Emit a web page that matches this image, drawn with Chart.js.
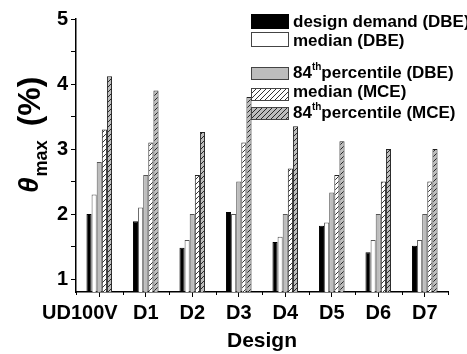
<!DOCTYPE html>
<html>
<head>
<meta charset="utf-8">
<script src="https://cdn.jsdelivr.net/npm/chart.js@4"></script>
<style>
  html, body { margin: 0; padding: 0; background: #fff; }
  #chart { display: block; }
</style>
</head>
<body>
<canvas id="chart" width="467" height="354"></canvas>
<script>
// categories and series
const categories = ['UD100V', 'D1', 'D2', 'D3', 'D4', 'D5', 'D6', 'D7'];
const designDBE = [2.0, 1.89, 1.48, 2.03, 1.57, 1.82, 1.41, 1.51];
const medianDBE = [2.3, 2.1, 1.6, 2.0, 1.65, 1.87, 1.6, 1.6];
const p84DBE = [2.8, 2.6, 2.0, 2.5, 2.0, 2.33, 2.0, 2.0];
const medianMCE = [3.3, 3.1, 2.6, 3.1, 2.7, 2.6, 2.5, 2.5];
const p84MCE = [4.12, 3.9, 3.26, 3.8, 3.35, 3.12, 3.0, 3.0];
const seriesLabels = ['design demand (DBE)', 'median (DBE)', '84th percentile (DBE)', 'median (MCE)', '84th percentile (MCE)'];
const yTicks = [1, 1.5, 2, 2.5, 3, 3.5, 4, 4.5, 5];
const yTickLabels = ['1', '', '2', '', '3', '', '4', '', '5'];

const FONT = '"Liberation Sans", Arial, sans-serif';
const GRAY = '#bdbdbd';

// diagonal hatch pattern
function makeHatch(bg) {
    const c = document.createElement('canvas');
    c.width = 5; c.height = 5;
    const g = c.getContext('2d');
    g.fillStyle = bg;
    g.fillRect(0, 0, 5, 5);
    g.strokeStyle = '#000';
    g.lineWidth = 0.8;
    g.beginPath();
    g.moveTo(-1, 6); g.lineTo(6, -1);
    g.moveTo(-1, 1); g.lineTo(1, -1);
    g.moveTo(4, 6); g.lineTo(6, 4);
    g.stroke();
    return g.createPattern(c, 'repeat');
}

const ctx = document.getElementById('chart').getContext('2d');
const hatchWhite = makeHatch('#fff');
const hatchGray = makeHatch(GRAY);

const fills = ['#000', '#fff', GRAY, hatchWhite, hatchGray];
const borders = ['#000', '#555', '#555', '#222', '#222'];
const values = [designDBE, medianDBE, p84DBE, medianMCE, p84MCE];

const datasets = values.map((v, i) => ({
    label: seriesLabels[i],
    data: v,
    backgroundColor: fills[i],
    borderColor: borders[i],
    borderWidth: 1,
    categoryPercentage: 0.55,
    barPercentage: 1.0
}));

// custom legend, y-axis title and minor x ticks
const extras = {
    id: 'extras',
    afterDraw(chart) {
        const c = chart.ctx;
        const x = chart.scales.x;
        const area = chart.chartArea;

        // minor ticks between categories
        c.save();
        c.strokeStyle = '#000';
        c.lineWidth = 1;
        c.beginPath();
        for (let i = 0; i <= categories.length; i++) {
            const px = Math.round(x.getPixelForValue(i - 0.5)) + 0.5;
            c.moveTo(px, area.bottom);
            c.lineTo(px, area.bottom + 3);
        }
        c.stroke();
        c.restore();

        // legend
        const boxTop = [14, 32, 67, 88, 107];
        const boxH = [15, 15, 13, 13, 13];
        const base = [27, 46, 78, 97, 118];
        c.save();
        chart.data.datasets.forEach((ds, i) => {
            c.fillStyle = ds.backgroundColor;
            c.fillRect(251, boxTop[i], 38, boxH[i]);
            c.strokeStyle = i === 0 ? '#000' : '#444';
            c.lineWidth = 1;
            c.strokeRect(251.5, boxTop[i] + 0.5, 37, boxH[i] - 1);
            c.fillStyle = '#000';
            c.textBaseline = 'alphabetic';
            const m = ds.label.match(/^(\d+)th (.*)$/);
            let tx = 293;
            if (m) {
                c.font = 'bold 17px ' + FONT;
                c.fillText(m[1], tx, base[i]);
                tx += c.measureText(m[1]).width;
                c.font = 'bold 10px ' + FONT;
                c.fillText('th', tx, base[i] - 8);
                tx += c.measureText('th').width;
                c.font = 'bold 17px ' + FONT;
                c.fillText(m[2], tx, base[i]);
            } else {
                c.font = 'bold 17px ' + FONT;
                c.fillText(ds.label, tx, base[i]);
            }
        });
        c.restore();

        // y title: theta_max (%)
        c.save();
        c.translate(38, 193);
        c.rotate(-Math.PI / 2);
        c.fillStyle = '#000';
        c.textBaseline = 'alphabetic';
        c.font = 'italic bold 28px ' + FONT;
        c.fillText('\u03b8', 0, 0);
        let w = c.measureText('\u03b8').width;
        c.font = 'bold 18px ' + FONT;
        c.fillText('max', w + 1, 9);
        w += c.measureText('max').width + 1;
        c.font = 'bold 32px ' + FONT;
        c.fillText('(%)', w + 14, 2);
        c.restore();
    }
};

new Chart(ctx, {
    type: 'bar',
    data: { labels: categories, datasets: datasets },
    plugins: [extras],
    options: {
        responsive: false,
        animation: false,
        layout: { padding: { top: 19, right: 19, left: 0, bottom: 0 } },
        plugins: {
            legend: { display: false },
            tooltip: { enabled: false }
        },
        scales: {
            x: {
                offset: true,
                grid: {
                    offset: false,
                    drawOnChartArea: false,
                    drawTicks: true,
                    tickLength: 5,
                    color: '#000'
                },
                border: { display: true, color: '#000', width: 1.5 },
                ticks: {
                    autoSkip: false,
                    maxRotation: 0,
                    minRotation: 0,
                    padding: 4,
                    color: '#000',
                    font: { family: FONT, size: 20, weight: 'bold' },
                    callback: (v, i) => i === 0 ? categories[i] + '\u00a0\u00a0\u00a0\u00a0\u00a0\u00a0\u00a0' : categories[i]
                },
                title: {
                    display: true,
                    text: 'Design',
                    color: '#000',
                    font: { family: FONT, size: 21, weight: 'bold' },
                    padding: { top: 0, bottom: 0 }
                },
                afterFit: s => { s.height = 62; }
            },
            y: {
                min: 0.8,
                max: 5,
                afterBuildTicks: s => { s.ticks = yTicks.map(v => ({ value: v })); },
                grid: {
                    drawOnChartArea: false,
                    drawTicks: true,
                    tickLength: 5,
                    color: '#000'
                },
                border: { display: true, color: '#000', width: 1.5 },
                ticks: {
                    padding: 3,
                    color: '#000',
                    font: { family: FONT, size: 20, weight: 'bold' },
                    callback: (v, i) => yTickLabels[i]
                },
                afterFit: s => { s.width = 76; }
            }
        }
    }
});
</script>
</body>
</html>
